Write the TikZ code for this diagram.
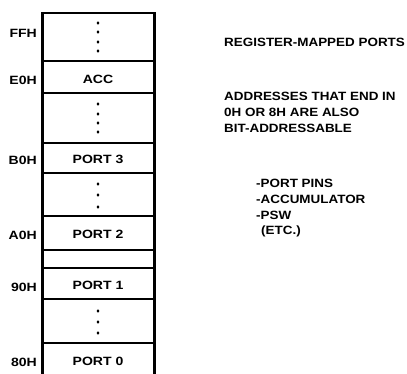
\documentclass[tikz,border=0pt]{standalone}
\usepackage{fontspec}
\setmainfont{Liberation Sans}
\newfontfamily\widefont[FakeStretch=1.17]{Liberation Sans}
\newfontfamily\sidefont[FakeStretch=1.12]{Liberation Sans}
\begin{document}
\begin{tikzpicture}[x=1pt,y=-1pt,
  lbl/.style={font=\widefont\fontsize{12}{14}\selectfont\bfseries, inner sep=0pt},
  addr/.style={lbl, anchor=east},
  txt/.style={font=\sidefont\fontsize{12}{14}\selectfont\bfseries, inner sep=0pt, anchor=west},
  cell/.style={lbl},
  rule/.style={line width=2.4pt}]
\useasboundingbox (0,0) rectangle (407,374);
% outer frame
\draw[line width=2.8pt, line join=miter] (42.5,380) -- (42.5,13) -- (154.5,13) -- (154.5,380);
% separators
\foreach \y in {61,93,143,173,216,250,268,299,343}
  \draw[rule] (42.5,\y) -- (154.5,\y);
% dots
\foreach \y in {23,32,42,51, 104,114,123,132, 184,195,207, 311,322,333}
  \fill (98,\y) ellipse (1.4 and 1.8);
% cell labels
\node[cell] (acc) at (98,79) {ACC};
\node[cell] (p3) at (98,159) {PORT 3};
\node[cell] (p2) at (98,234) {PORT 2};
\node[cell] (p1) at (98,285) {PORT 1};
\node[cell] (p0) at (98,361) {PORT 0};
% address labels
\node[addr] (ffh) at (37,33) {FFH};
\node[addr] (e0h) at (37,80) {E0H};
\node[addr] (b0h) at (37,160) {B0H};
\node[addr] (a0h) at (37,235) {A0H};
\node[addr] (n90h) at (37,287) {90H};
\node[addr] (n80h) at (37,362) {80H};
% right text
\node[txt] (t1) at (224,42) {REGISTER-MAPPED PORTS};
\node[txt] (t2) at (224,96) {ADDRESSES THAT END IN};
\node[txt] (t3) at (224,112) {0H OR 8H ARE ALSO};
\node[txt] (t4) at (224,128) {BIT-ADDRESSABLE};
\node[txt] (t5) at (256,183) {-PORT PINS};
\node[txt] (t6) at (256,199) {-ACCUMULATOR};
\node[txt] (t7) at (256,215) {-PSW};
\node[txt] (t8) at (261,231) {(ETC.)};
\end{tikzpicture}
\end{document}
